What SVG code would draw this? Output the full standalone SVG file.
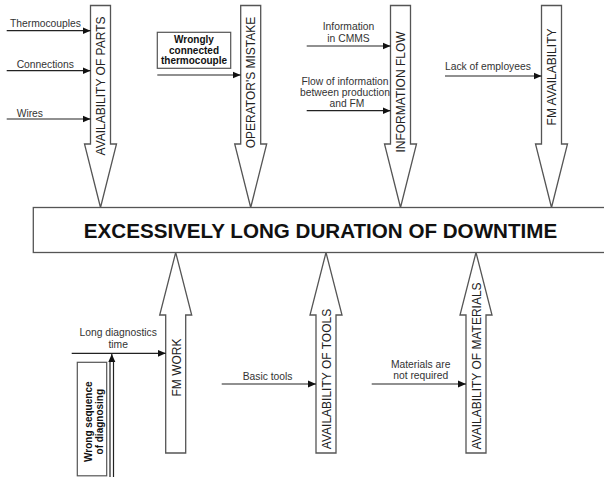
<svg xmlns="http://www.w3.org/2000/svg" width="604" height="477" viewBox="0 0 604 477">
<defs>
<marker id="ah" markerUnits="userSpaceOnUse" markerWidth="9" markerHeight="8" refX="8" refY="4" orient="auto">
<path d="M0,0.5 L8,4 L0,7.5 Z" fill="#111"/>
</marker>
<style>
.big{fill:#fff;stroke:#555;stroke-width:1.3}
.cat{font-family:"Liberation Sans",Arial,sans-serif;font-size:12px;fill:#222;text-anchor:middle}
.lbl{font-family:"Liberation Sans",Arial,sans-serif;font-size:10.3px;fill:#333}
.mid{text-anchor:middle}
.bold{font-family:"Liberation Sans",Arial,sans-serif;font-size:10px;font-weight:bold;fill:#111;text-anchor:middle}
.ln{stroke:#222;stroke-width:1.2;fill:none}
.box{fill:#fff;stroke:#555;stroke-width:1.2}
</style>
</defs>
<rect width="604" height="477" fill="#fff"/>

<g id="effect">
<rect class="big" x="33.3" y="207.5" width="580" height="45"/>
<text x="320.5" y="237.5" font-family="Liberation Sans,Arial,sans-serif" font-size="20.6" font-weight="bold" fill="#111" text-anchor="middle">EXCESSIVELY LONG DURATION OF DOWNTIME</text>
</g>

<g id="cat-parts">
<polygon class="big" points="90.5,5.5 110.5,5.5 110.5,144 116.5,144 100.5,207.5 84.5,144 90.5,144"/>
<text class="cat" transform="translate(100.5,86) rotate(-90)" x="0" y="4.3">AVAILABILITY OF PARTS</text>
</g>
<g id="cat-operator">
<polygon class="big" points="240.7,5.5 260.7,5.5 260.7,144 266.7,144 250.7,207.5 234.7,144 240.7,144"/>
<text class="cat" transform="translate(250.7,82.5) rotate(-90)" x="0" y="4.3">OPERATOR'S MISTAKE</text>
</g>
<g id="cat-info">
<polygon class="big" points="390.5,5.5 410.5,5.5 410.5,144 416.5,144 400.5,207.5 384.5,144 390.5,144"/>
<text class="cat" transform="translate(400.5,92) rotate(-90)" x="0" y="4.3">INFORMATION FLOW</text>
</g>
<g id="cat-fmavail">
<polygon class="big" points="541.5,5.5 561.5,5.5 561.5,144 567.5,144 551.5,207.5 535.5,144 541.5,144"/>
<text class="cat" transform="translate(551.5,77) rotate(-90)" x="0" y="4.3">FM AVAILABILITY</text>
</g>
<g id="cat-fmwork">
<polygon class="big" points="175.7,252.5 191.7,315 185.7,315 185.7,453 165.7,453 165.7,315 159.7,315"/>
<text class="cat" transform="translate(177,367.5) rotate(-90)" x="0" y="4.3">FM WORK</text>
</g>
<g id="cat-tools">
<polygon class="big" points="326,252.5 342,315 336,315 336,453 316,453 316,315 310,315"/>
<text class="cat" transform="translate(326.3,379) rotate(-90)" x="0" y="4.3">AVAILABILITY OF TOOLS</text>
</g>
<g id="cat-materials">
<polygon class="big" points="476,252.5 492,315 486,315 486,453 466,453 466,315 460,315"/>
<text class="cat" transform="translate(476.3,366) rotate(-90)" x="0" y="4.3">AVAILABILITY OF MATERIALS</text>
</g>

<g id="cause-thermocouples"><text class="lbl" x="10" y="27.3">Thermocouples</text></g>
<g id="cause-connections"><text class="lbl" x="16.7" y="67.8">Connections</text></g>
<g id="cause-wires"><text class="lbl" x="16.7" y="116.8">Wires</text></g>
<g id="cause-wrongly">
<rect class="box" x="157.3" y="32.3" width="73.4" height="36"/>
<text class="bold" x="194" y="43">Wrongly</text>
<text class="bold" x="194" y="53.5">connected</text>
<text class="bold" x="194" y="64">thermocouple</text>
</g>
<g id="cause-cmms">
<text class="lbl mid" x="348.5" y="29.5">Information</text>
<text class="lbl mid" x="348.5" y="42.3">in CMMS</text>
</g>
<g id="cause-flow">
<text class="lbl mid" x="345" y="85.3">Flow of information</text>
<text class="lbl mid" x="345" y="96.3">between production</text>
<text class="lbl mid" x="347" y="107">and FM</text>
</g>
<g id="cause-employees"><text class="lbl" x="445" y="69.8">Lack of employees</text></g>
<g id="cause-longdiag">
<text class="lbl mid" x="118.2" y="336.3">Long diagnostics</text>
<text class="lbl mid" x="118.2" y="348">time</text>
</g>
<g id="cause-wrongseq">
<rect class="box" x="77.3" y="362.3" width="29.4" height="113.5"/>
<text class="bold" transform="translate(92,421.7) rotate(-90)" x="0" y="0.3">Wrong sequence</text>
<text class="bold" transform="translate(92,421.7) rotate(-90)" x="0" y="10.8">of diagnosing</text>
</g>
<g id="cause-basic"><text class="lbl" x="242.7" y="380">Basic tools</text></g>
<g id="cause-materials">
<text class="lbl mid" x="420.7" y="368">Materials are</text>
<text class="lbl mid" x="420.7" y="378.5">not required</text>
</g>

<g id="connectors">
<line class="ln" x1="6.7" y1="30.7" x2="90.5" y2="30.7" marker-end="url(#ah)"/>
<line class="ln" x1="6.7" y1="70.7" x2="90.5" y2="70.7" marker-end="url(#ah)"/>
<line class="ln" x1="6.7" y1="119" x2="90.5" y2="119" marker-end="url(#ah)"/>
<line class="ln" x1="157.3" y1="75" x2="240.7" y2="75" marker-end="url(#ah)"/>
<line class="ln" x1="306.7" y1="46" x2="390.5" y2="46" marker-end="url(#ah)"/>
<line class="ln" x1="306.7" y1="110.7" x2="390.5" y2="110.7" marker-end="url(#ah)"/>
<line class="ln" x1="445" y1="76" x2="541.5" y2="76" marker-end="url(#ah)"/>
<line class="ln" x1="71.7" y1="353.3" x2="165.7" y2="353.3" marker-end="url(#ah)"/>
<line class="ln" x1="110" y1="477" x2="110" y2="360"/>
<line class="ln" x1="113.5" y1="477" x2="113.5" y2="360"/>
<line class="ln" x1="111.8" y1="362" x2="111.8" y2="354" marker-end="url(#ah)"/>
<line class="ln" x1="221.7" y1="384" x2="316" y2="384" marker-end="url(#ah)"/>
<line class="ln" x1="371.7" y1="384" x2="466" y2="384" marker-end="url(#ah)"/>
</g>
</svg>
